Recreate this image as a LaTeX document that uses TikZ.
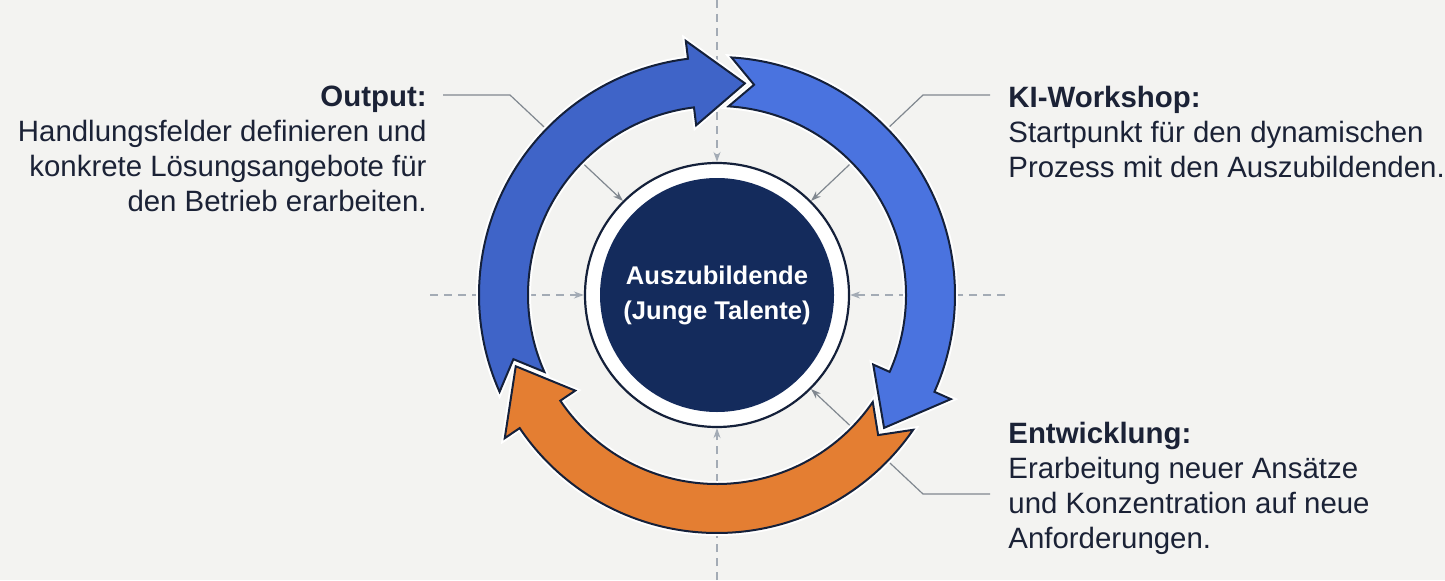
\documentclass[tikz,border=0pt]{standalone}
\usepackage{fontspec}
\setmainfont{Liberation Sans}
\usepackage{tikz}
\usetikzlibrary{arrows.meta}

\definecolor{bg}{HTML}{F3F3F1}
\definecolor{navy}{HTML}{142B5C}
\definecolor{ink}{HTML}{1B2236}
\definecolor{rand}{HTML}{14203A}
\definecolor{blauA}{HTML}{3F64C8}
\definecolor{blauB}{HTML}{4A73DF}
\definecolor{orangeP}{HTML}{E47E32}
\definecolor{leitc}{HTML}{80878F}
\definecolor{kreuzc}{HTML}{A3ABB5}

% tail angle, head base angle, colour
\newcommand{\kreispfeil}[3]{%
  \filldraw[pfeil, fill=#3] (#1:238) arc[start angle=#1, end angle=#2, radius=238]
    -- (#2:256) -- ({#2-14.5}:213.5) -- (#2:171) -- (#2:189)
    arc[start angle=#2, end angle=#1, radius=189] -- ({#1-6.5}:213.5) -- cycle;}

\begin{document}
\begin{tikzpicture}[x=0.5pt, y=0.5pt,
    pfeil/.style={draw=rand, line width=1pt, line join=miter, preaction={draw=white, line width=3pt}},
    leit/.style={draw=leitc, line width=0.6pt, -{Stealth[length=5pt, width=3.5pt]}},
    kreuz/.style={draw=kreuzc, line width=0.8pt, dash pattern=on 4pt off 3pt, -{Stealth[length=5pt, width=3.5pt]}},
    txt/.style={font=\fontsize{14.7}{17.5}\selectfont, text=ink, inner sep=0pt}]

    \fill[bg] (0,0) rectangle (1445,580);
    \useasboundingbox (0,0) rectangle (1445,580);

    \coordinate (C) at (717,285);

    \node[circle, draw=rand, line width=1.1pt, fill=white, minimum size=132pt, inner sep=0pt] (hub) at (C) {};
    \node[circle, fill=navy, minimum size=117pt, inner sep=0pt, text=white, align=center,
        font=\bfseries\fontsize{12.8}{17.5}\selectfont] (kern) at (C) {Auszubildende\\(Junge Talente)};

    % dashed cross
    \coordinate (oben) at (717,580);
    \coordinate (unten) at (717,0);
    \coordinate (links) at (430,285);
    \coordinate (rechts) at (1005,285);
    \draw[kreuz] (oben) -- (hub.north);
    \draw[kreuz] (unten) -- (hub.south);
    \draw[kreuz] (links) -- (hub.west);
    \draw[kreuz] (rechts) -- (hub.east);

    % leader lines
    \coordinate (outS) at (443,485);
    \coordinate (outK) at (510,485);
    \coordinate (kiS) at (990,485);
    \coordinate (kiK) at (923,485);
    \coordinate (entS) at (990,86);
    \coordinate (entK) at (923,86);
    \draw[leit] (outS) -- (outK) -- (hub.135);
    \draw[leit] (kiS) -- (kiK) -- (hub.45);
    \draw[leit] (entS) -- (entK) -- (hub.-45);

    % cycle arrows
    \begin{scope}[shift={(C)}]
        \kreispfeil{86.5}{-24}{blauB}
        \kreispfeil{-34.5}{-146}{orangeP}
        \kreispfeil{204}{97}{blauA}
    \end{scope}

    \node[txt, anchor=north east, align=right] (outtext) at (427,494)
        {\textbf{Output:}\\Handlungsfelder definieren und\\konkrete Lösungsangebote für\\den Betrieb erarbeiten.};
    \node[txt, anchor=north west, align=left] (kitext) at (1008,494)
        {\textbf{KI-Workshop:}\\Startpunkt für den dynamischen\\Prozess mit den Auszubildenden.};
    \node[txt, anchor=north west, align=left] (enttext) at (1008,158)
        {\textbf{Entwicklung:}\\Erarbeitung neuer Ansätze\\und Konzentration auf neue\\Anforderungen.};

\end{tikzpicture}
\end{document}
